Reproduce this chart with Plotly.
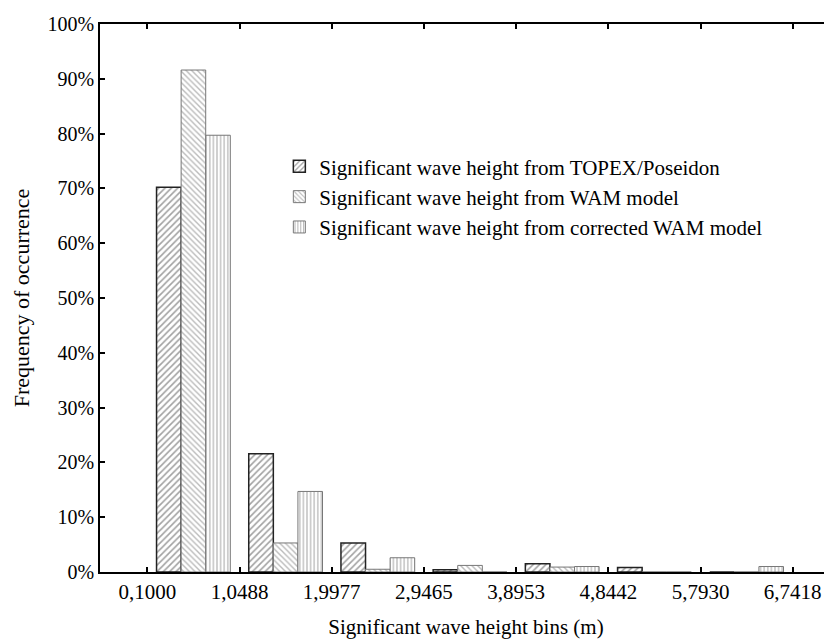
import plotly.graph_objects as go

# Bin edges (m) and their tick labels
bin_edges = [0.1000, 1.0488, 1.9977, 2.9465, 3.8953, 4.8442, 5.7930, 6.7418]
edge_labels = ["0,1000", "1,0488", "1,9977", "2,9465", "3,8953", "4,8442", "5,7930", "6,7418"]

# Y ticks (%) and labels
y_ticks = [0, 10, 20, 30, 40, 50, 60, 70, 80, 90, 100]
y_labels = ["0%", "10%", "20%", "30%", "40%", "50%", "60%", "70%", "80%", "90%", "100%"]

# Frequency of occurrence (%) per bin
topex = [70.2, 21.6, 5.3, 0.4, 1.5, 0.8, 0.0]
wam = [91.6, 5.3, 0.5, 1.2, 0.9, 0.0, 0.0]
wam_corr = [79.7, 14.7, 2.6, 0.0, 1.0, 0.0, 1.0]

names = [
    "Significant wave height from TOPEX/Poseidon",
    "Significant wave height from WAM model",
    "Significant wave height from corrected WAM model",
]

bin_centers = [(a + b) / 2 for a, b in zip(bin_edges[:-1], bin_edges[1:])]

FONT = "Liberation Serif, Times New Roman, serif"
X_RANGE = [-0.387, 7.146]

fig = go.Figure()
fig.add_trace(go.Bar(
    x=bin_centers, y=topex, name=names[0],
    marker=dict(color="white", line=dict(color="#222222", width=1.5),
                pattern=dict(shape="/", fgcolor="#444444", bgcolor="white", size=4.5, solidity=0.35)),
))
fig.add_trace(go.Bar(
    x=bin_centers, y=wam, name=names[1],
    marker=dict(color="white", line=dict(color="#777777", width=1),
                pattern=dict(shape="\\", fgcolor="#777777", bgcolor="white", size=4, solidity=0.35)),
))
fig.add_trace(go.Bar(
    x=bin_centers, y=wam_corr, name=names[2],
    marker=dict(color="white", line=dict(color="#777777", width=1),
                pattern=dict(shape="|", fgcolor="#555555", bgcolor="white", size=3.6, solidity=0.3)),
))

fig.update_layout(
    width=832, height=640,
    margin=dict(l=92, r=8, t=16, b=76),
    paper_bgcolor="white", plot_bgcolor="white",
    barmode="group", bargap=0.2, bargroupgap=0,
    font=dict(family=FONT, size=20, color="black"),
    showlegend=True,
    legend=dict(x=0.245, y=0.777, xanchor="left", yanchor="top",
                bgcolor="rgba(0,0,0,0)", borderwidth=0,
                font=dict(family=FONT, size=21, color="black"),
                tracegroupgap=0),
    xaxis=dict(
        range=X_RANGE, automargin=False,
        tickvals=bin_edges, ticktext=edge_labels,
        ticks="inside", ticklen=5, tickwidth=1.5, tickcolor="black",
        showline=True, linecolor="black", linewidth=1.5, mirror="ticks",
        showgrid=False, zeroline=False, ticklabeloverflow="allow",
        tickfont=dict(family=FONT, size=21),
        title=dict(text="Significant wave height bins (m)", font=dict(family=FONT, size=21), standoff=16),
    ),
    # top frame axis (same scale as bottom axis, no labels)
    xaxis2=dict(
        overlaying="x", side="top", anchor="y", matches="x", range=X_RANGE,
        tickvals=bin_edges, showticklabels=False, automargin=False,
        ticks="inside", ticklen=5, tickwidth=1.5, tickcolor="black",
        showline=True, linecolor="black", linewidth=1.5,
        showgrid=False, zeroline=False,
    ),
    yaxis=dict(
        range=[0, 100], automargin=False,
        tickvals=y_ticks, ticktext=y_labels,
        ticks="inside", ticklen=5, tickwidth=1.5, tickcolor="black",
        showline=True, linecolor="black", linewidth=1.5, mirror=False,
        showgrid=False, zeroline=False, ticklabeloverflow="allow",
        tickfont=dict(family=FONT, size=20),
        title=dict(text="Frequency of occurrence", font=dict(family=FONT, size=22), standoff=12),
    ),
)

fig.write_html("out.html")
